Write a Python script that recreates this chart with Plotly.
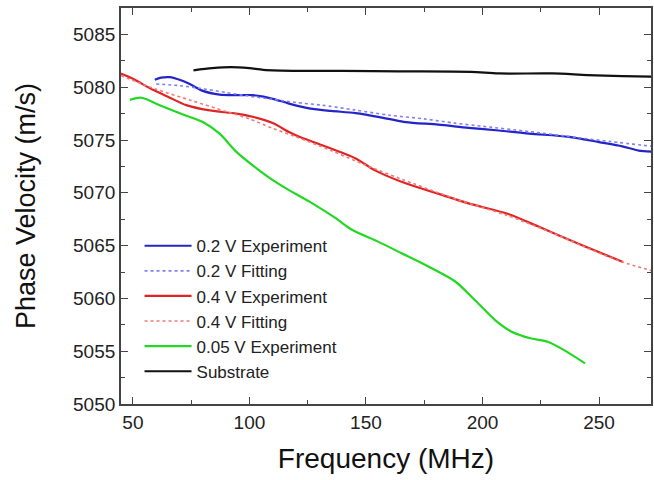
import plotly.graph_objects as go

# Frequency (MHz) / phase velocity (m/s) readings for each curve
blue_exp_f = [59.4, 62, 65.8, 70, 74.4, 80, 87.2, 95, 101.4, 106, 110, 117, 125.6, 135, 145.6,
              159.8, 167, 181, 194, 207, 220, 237, 250, 260, 267, 273]
blue_exp_v = [5080.7, 5080.9, 5080.95, 5080.7, 5080.3, 5079.65, 5079.3, 5079.25, 5079.25, 5079.1,
              5078.9, 5078.45, 5078.0, 5077.75, 5077.55, 5077.0, 5076.7, 5076.45, 5076.15, 5075.9,
              5075.6, 5075.3, 5074.8, 5074.4, 5074.0, 5073.9]

blue_fit_f = [60, 70, 80, 90, 100, 110, 120, 131, 145, 160, 175, 188, 200, 220, 240, 255, 273]
blue_fit_v = [5080.3, 5080.15, 5079.85, 5079.5, 5079.15, 5078.85, 5078.55, 5078.3, 5077.85,
              5077.35, 5077.0, 5076.6, 5076.3, 5075.8, 5075.25, 5074.85, 5074.4]

red_exp_f = [44.9, 50, 58.6, 65, 72.9, 82.9, 94.3, 101.4, 110, 117, 121.4, 131.3, 145.6, 154.1,
             167, 181.2, 194, 211, 224, 242, 260.3]
red_exp_v = [5081.3, 5080.8, 5079.75, 5079.1, 5078.3, 5077.8, 5077.5, 5077.2, 5076.6, 5075.75,
             5075.3, 5074.5, 5073.25, 5072.1, 5070.9, 5069.9, 5069.0, 5068.0, 5066.8, 5065.1,
             5063.45]

red_fit_f = [44.9, 60, 75, 90, 100, 110, 120, 135, 150, 170, 190, 210, 230, 250, 260, 273]
red_fit_v = [5081.1, 5079.8, 5078.75, 5077.7, 5077.0, 5076.1, 5075.3, 5074.0, 5072.6, 5070.9,
             5069.3, 5067.9, 5066.2, 5064.3, 5063.45, 5062.6]

green_exp_f = [48.7, 53.7, 61.5, 72.9, 80, 87.2, 94.3, 101.4, 110, 117, 127, 137, 144, 155,
               165.5, 176.9, 188.3, 196.9, 205.4, 212.5, 221, 228, 235, 244]
green_exp_v = [5078.8, 5079.0, 5078.3, 5077.3, 5076.7, 5075.6, 5073.9, 5072.6, 5071.2, 5070.25,
               5069.0, 5067.6, 5066.5, 5065.4, 5064.25, 5063.0, 5061.6, 5059.8, 5057.95, 5056.85,
               5056.2, 5055.9, 5055.1, 5053.85]

substrate_f = [76, 84, 92, 100, 106, 121, 140, 164, 195, 207, 230, 245, 260, 273]
substrate_v = [5081.6, 5081.8, 5081.9, 5081.8, 5081.65, 5081.55, 5081.55, 5081.5, 5081.45,
               5081.3, 5081.3, 5081.15, 5081.05, 5081.0]

x_ticks = [50, 100, 150, 200, 250]
y_ticks = [5050, 5055, 5060, 5065, 5070, 5075, 5080, 5085]

FONT = "Liberation Sans, Arial, sans-serif"

series = [
    ("0.2 V Experiment", blue_exp_f, blue_exp_v, dict(color="#2424c8", width=2.2)),
    ("0.2 V Fitting", blue_fit_f, blue_fit_v, dict(color="#8080f0", width=1.6, dash="dot")),
    ("0.4 V Experiment", red_exp_f, red_exp_v, dict(color="#e02424", width=2.2)),
    ("0.4 V Fitting", red_fit_f, red_fit_v, dict(color="#f07a7a", width=1.6, dash="dot")),
    ("0.05 V Experiment", green_exp_f, green_exp_v, dict(color="#22d822", width=2.2)),
    ("Substrate", substrate_f, substrate_v, dict(color="#111111", width=2.2)),
]

fig = go.Figure()
for name, f, v, line in series:
    fig.add_trace(go.Scatter(x=f, y=v, mode="lines", name=name,
                             line=dict(shape="spline", smoothing=0.8, **line)))

axis_common = dict(
    showline=True, linecolor="#444444", linewidth=1.8, mirror="allticks",
    ticks="inside", ticklen=7, tickwidth=1.2, tickcolor="#444444",
    showgrid=False, zeroline=False,
    tickfont=dict(family=FONT, size=19, color="#222222"),
)

fig.update_xaxes(
    range=[44.9, 272.3], tickvals=x_ticks, ticktext=[str(t) for t in x_ticks],
    minor=dict(ticks="inside", ticklen=4, tickcolor="#444444", dtick=25, tick0=25),
    title_text="Frequency (MHz)", title_standoff=17,
    title_font=dict(family=FONT, size=28, color="#111111"),
    **axis_common,
)
fig.update_yaxes(
    range=[5050, 5087.5], tickvals=y_ticks, ticktext=[str(t) for t in y_ticks],
    minor=dict(ticks="inside", ticklen=4, tickcolor="#444444", dtick=2.5, tick0=5050),
    title_text="Phase Velocity (m/s)", title_standoff=30,
    title_font=dict(family=FONT, size=27, color="#111111"),
    **axis_common,
)

fig.update_layout(
    width=654, height=480,
    margin=dict(l=121, r=1, t=8, b=76),
    paper_bgcolor="white", plot_bgcolor="white",
    font=dict(family=FONT, color="#222222"),
    legend=dict(
        x=0.035, y=0.444, xanchor="left", yanchor="top",
        bgcolor="rgba(0,0,0,0)", borderwidth=0,
        font=dict(family=FONT, size=17, color="#222222"),
        itemwidth=47, tracegroupgap=0,
    ),
)

fig.write_html("out.html")
